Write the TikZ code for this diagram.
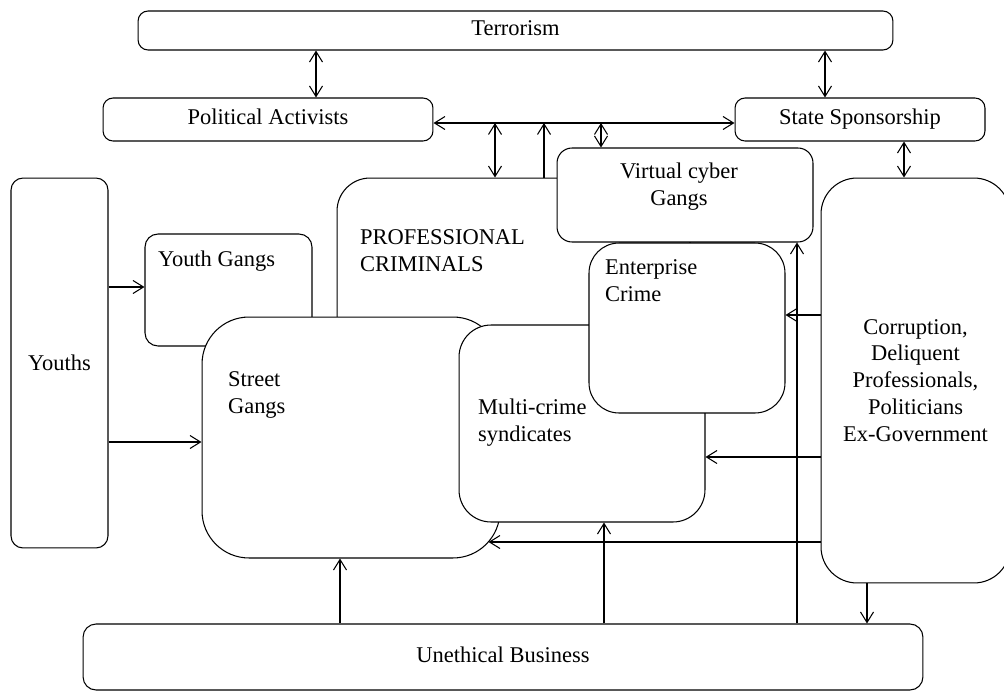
\documentclass[tikz,border=0pt]{standalone}
\usepackage{fontspec}
\setmainfont{Liberation Serif}
\usetikzlibrary{arrows.meta, positioning, calc}

\begin{document}
\begin{tikzpicture}[
    x=0.02cm, y=-0.02cm,
    font=\fontsize{12.8pt}{15.3pt}\selectfont,
    line width=0.6pt,
    rbox/.style={draw, fill=white, inner sep=0pt, align=center},
    oneline/.style={text height=0.75em, text depth=0.15em},
    lbl/.style={inner sep=0pt, anchor=base west, align=left},
    arr/.style={-{Straight Barb[length=2.1mm, width=2.6mm]}},
    dbl/.style={{Straight Barb[length=2.1mm, width=2.6mm]}-{Straight Barb[length=2.1mm, width=2.6mm]}}
  ]
  \useasboundingbox (0,0) rectangle (1004,693);

  % Top row
  \node[rbox, oneline, rounded corners=0.2cm, minimum width=15.1cm, minimum height=0.78cm] (terror) at (515.5,30.5) {Terrorism};
  \node[rbox, oneline, rounded corners=0.2cm, minimum width=6.6cm, minimum height=0.86cm] (pol) at (268,119.5) {Political Activists};
  \node[rbox, oneline, rounded corners=0.2cm, minimum width=5cm, minimum height=0.86cm] (state) at (860,119.5) {State Sponsorship};
  \coordinate (link) at ([yshift=-0.07cm]pol.east);

  % Youths
  \node[rbox, rounded corners=0.24cm, minimum width=1.94cm, minimum height=7.4cm] (youths) at (59.5,363) {Youths};
  \node[rbox, rounded corners=0.26cm, minimum width=3.34cm, minimum height=2.24cm] (ygang) at (228.5,290) {};
  \node[lbl] (ygtxt) at ($(ygang.north west)+(13,33)$) {Youth Gangs};

  % Crime groups
  \node[rbox, rounded corners=0.66cm, minimum width=7.06cm, minimum height=6.04cm] (prof) at (513.5,329) {};
  \node[lbl] (proftxt) at ($(prof.north west)+(23,94)$) {PROFESSIONAL\\CRIMINALS};
  \node[rbox, rounded corners=0.94cm, minimum width=5.96cm, minimum height=4.82cm] (street) at (351,437.5) {};
  \node[lbl] (sgtxt) at ($(street.north west)+(26,97)$) {Street\\Gangs};
  \node[rbox, rounded corners=0.64cm, minimum width=4.92cm, minimum height=3.94cm] (multi) at (582,423.5) {};
  \node[lbl] (mctxt) at ($(multi.north west)+(19,117)$) {Multi-crime\\syndicates};
  \node[rbox, rounded corners=0.6cm, minimum width=3.92cm, minimum height=3.4cm] (enterprise) at (687,328) {};
  \node[lbl] (ectxt) at ($(enterprise.north west)+(16,59)$) {Enterprise\\Crime};
  \node[rbox, rounded corners=0.3cm, minimum width=5.12cm, minimum height=1.88cm] (virtual) at (685,195) {};
  \node[lbl, anchor=base, align=center] (vctxt) at ($(virtual.north)+(-6,58)$) {Virtual cyber\\Gangs};

  % Right and bottom
  \node[rbox, rounded corners=0.72cm, minimum width=3.78cm, minimum height=8.1cm] (corrupt) at (915.5,380.5) {Corruption,\\Deliquent\\Professionals,\\Politicians\\Ex-Government};
  \node[rbox, oneline, rounded corners=0.26cm, minimum width=16.8cm, minimum height=1.32cm] (unethical) at (503,657) {Unethical Business};

  % Links
  \draw[dbl] (terror.south -| 316,0) -- (pol.north -| 316,0);
  \draw[dbl] (terror.south -| 825,0) -- (state.north -| 825,0);
  \draw[dbl] (link) -- (state.west |- link);
  \draw[dbl] (prof.north -| 495,0) -- (link -| 495,0);
  \draw[arr] (prof.north -| 544,0) -- (link -| 544,0);
  \draw[dbl] (virtual.north -| 601,0) -- (link -| 601,0);
  \draw[dbl] (state.south -| 904,0) -- (corrupt.north -| 904,0);
  \draw[arr] (youths.east |- 0,287) -- (ygang.west |- 0,287);
  \draw[arr] (youths.east |- 0,442) -- (street.west |- 0,442);
  \draw[arr] (corrupt.west |- 0,315) -- (enterprise.east |- 0,315);
  \draw[arr] (corrupt.west |- 0,457) -- (multi.east |- 0,457);
  \draw[arr] (corrupt.west |- 0,542) -- ($(street.east |- 0,542)+(-12,0)$);
  \draw[arr] (unethical.north -| 340,0) -- (street.south -| 340,0);
  \draw[arr] (unethical.north -| 604,0) -- (multi.south -| 604,0);
  \draw[arr] (unethical.north -| 797,0) -- (virtual.south -| 797,0);
  \draw[arr] (corrupt.south -| 867,0) -- (unethical.north -| 867,0);
\end{tikzpicture}
\end{document}
